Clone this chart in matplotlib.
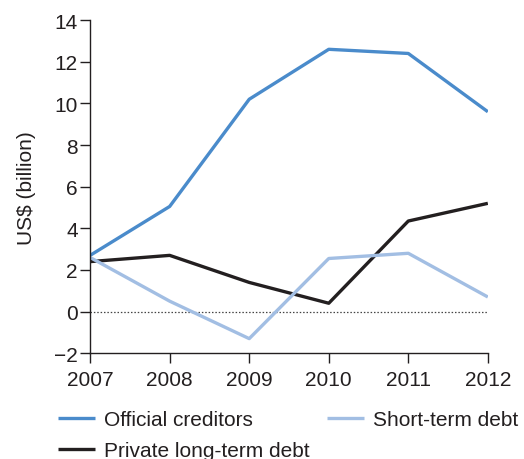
import matplotlib
matplotlib.use("Agg")
import matplotlib.pyplot as plt

years = [2007, 2008, 2009, 2010, 2011, 2012]
official = [2.7, 5.05, 10.2, 12.6, 12.4, 9.6]
private = [2.4, 2.7, 1.4, 0.4, 4.35, 5.2]
short_term = [2.6, 0.5, -1.3, 2.55, 2.8, 0.7]

plt.rcParams['font.family'] = ['Liberation Sans', 'DejaVu Sans']
fig = plt.figure(figsize=(5.24, 4.6), dpi=100)
ax = fig.add_axes([0.172, 0.230, 0.759, 0.724])

c_off = '#4a8bcb'
c_short = '#a2bee3'
c_priv = '#231f20'
lw = 2.4
fs = 15
ax.axhline(0, color='#444444', lw=0.9, ls=(0, (1.2, 1.5)), zorder=1)
l1, = ax.plot(years, official, color=c_off, lw=lw, label='Official creditors', solid_capstyle='butt')
l2, = ax.plot(years, private, color=c_priv, lw=lw, label='Private long-term debt', solid_capstyle='butt')
l3, = ax.plot(years, short_term, color=c_short, lw=lw, label='Short-term debt', solid_capstyle='butt')

ax.set_xlim(2007, 2012)
ax.set_ylim(-2, 14)
ax.set_yticks(range(-2, 15, 2))
ax.set_yticklabels(['\u22122'] + [str(v) for v in range(0, 15, 2)])
ax.set_xticks(years)
ax.set_xticklabels([str(y) for y in years])
for s in ['top', 'right']:
    ax.spines[s].set_visible(False)
for s in ['left', 'bottom']:
    ax.spines[s].set_linewidth(1.0)
    ax.spines[s].set_color('#231f20')
ax.tick_params(axis='both', labelsize=fs, length=7, width=1.0, color='#231f20', labelcolor='#231f20')
ax.tick_params(axis='y', pad=2)
ax.tick_params(axis='x', pad=5)
ax.set_ylabel('US$ (billion)', fontsize=fs, color='#231f20')
ax.yaxis.set_label_coords((36 - 90) / 398, 0.5)

fig.legend(handles=[l1, l2, l3], loc='upper left', bbox_to_anchor=(58/524, 1 - 411/460),
           ncol=2, frameon=False, fontsize=fs, handlelength=1.78, handletextpad=0.43,
           columnspacing=0.85, labelspacing=0.6, borderpad=0, borderaxespad=0,
           labelcolor='#231f20')

fig.savefig('out.png', dpi=100)
